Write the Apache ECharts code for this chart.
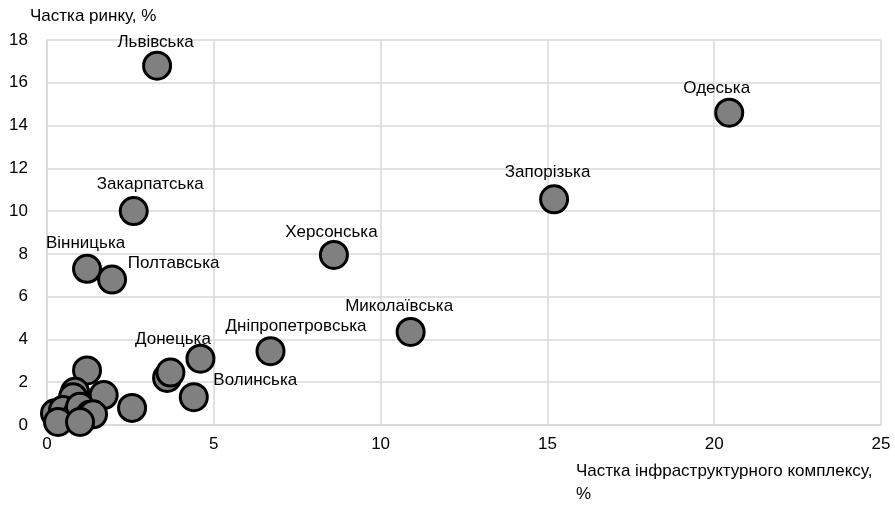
<!DOCTYPE html>
<html><head><meta charset="utf-8">
<script src="https://cdn.jsdelivr.net/npm/echarts@6/dist/echarts.min.js"></script>
<style>html,body{margin:0;padding:0;background:#fff}#c{width:895px;height:508px}</style>
</head><body><div id="c"></div>
<script>
var regionNames = ['Львівська','Одеська','Запорізька','Закарпатська','Херсонська','Вінницька','Полтавська','Миколаївська','Дніпропетровська','Донецька','Волинська','','','','','','','','','','','','','','',''];
var infraShare = [3.3, 20.45, 15.2, 2.6, 8.6, 1.2, 1.95, 10.9, 6.7, 4.6, 4.4, 3.6, 3.7, 1.2, 1.7, 2.55, 0.84, 0.78, 0.24, 0.48, 0.9, 0.99, 1.29, 1.38, 0.33, 0.99];
var marketShare = [16.8, 14.6, 10.55, 10.0, 7.95, 7.3, 6.8, 4.35, 3.45, 3.1, 1.3, 2.2, 2.45, 2.55, 1.4, 0.8, 1.55, 1.3, 0.55, 0.7, 0.5, 0.85, 0.48, 0.5, 0.14, 0.14];
var xTicks = [0, 5, 10, 15, 20, 25];
var yTicks = [0, 2, 4, 6, 8, 10, 12, 14, 16, 18];

// label centre offset from point centre (px)
var labelOffsets = {
  'Львівська': [0,-22],
  'Одеська': [-11,-23],
  'Запорізька': [-5,-26],
  'Закарпатська': [18,-25],
  'Херсонська': [-1,-21],
  'Вінницька': [0,-24],
  'Полтавська': [63,-15],
  'Миколаївська': [-10,-24],
  'Дніпропетровська': [27,-23],
  'Донецька': [-26,-18],
  'Волинська': [63,-15]
};

var SYM = 27;
var FONT = '"Liberation Sans", Arial, sans-serif';
var data = infraShare.map(function(x, i){
  var item = {value:[x, marketShare[i]], name: regionNames[i]};
  var off = labelOffsets[regionNames[i]];
  if (off) {
    item.label = {show:true, formatter: regionNames[i], color:'#000', fontFamily:FONT, fontSize:17,
      position:[SYM/2 + off[0], SYM/2 + off[1]], align:'center', verticalAlign:'middle'};
  }
  return item;
});

var chart = echarts.init(document.getElementById('c'), null, {renderer:'canvas'});
chart.setOption({
  animation:false,
  grid:{left:47, right:14, top:40, bottom:83},
  xAxis:{type:'value', min:0, max:25, interval:5,
    axisLine:{show:true, lineStyle:{color:'#d9d9d9', width:1.5}},
    axisTick:{show:false},
    splitLine:{show:true, lineStyle:{color:'#d9d9d9', width:1.5}},
    axisLabel:{color:'#000', fontFamily:FONT, fontSize:17, margin:11,
      formatter:function(v){return xTicks.indexOf(v)>=0? String(v):'';}}
  },
  yAxis:{type:'value', min:0, max:18, interval:2,
    axisLine:{show:true, lineStyle:{color:'#d9d9d9', width:1.5}},
    axisTick:{show:false},
    splitLine:{show:true, lineStyle:{color:'#d9d9d9', width:1.5}},
    axisLabel:{color:'#000', fontFamily:FONT, fontSize:17, margin:19,
      formatter:function(v){return yTicks.indexOf(v)>=0? String(v):'';}}
  },
  graphic:[
    {type:'text', left:30, top:8, style:{text:'Частка ринку, %', fill:'#000', font:'17px '+FONT}},
    {type:'text', left:576, top:460, style:{text:'Частка інфраструктурного комплексу,\n%', fill:'#000', font:'17px '+FONT, lineHeight:23}}
  ],
  series:[{
    type:'scatter',
    symbol:'circle',
    symbolSize:SYM,
    itemStyle:{color:'#808080', borderColor:'#000', borderWidth:3, opacity:1},
    data:data
  }]
});
</script></body></html>
